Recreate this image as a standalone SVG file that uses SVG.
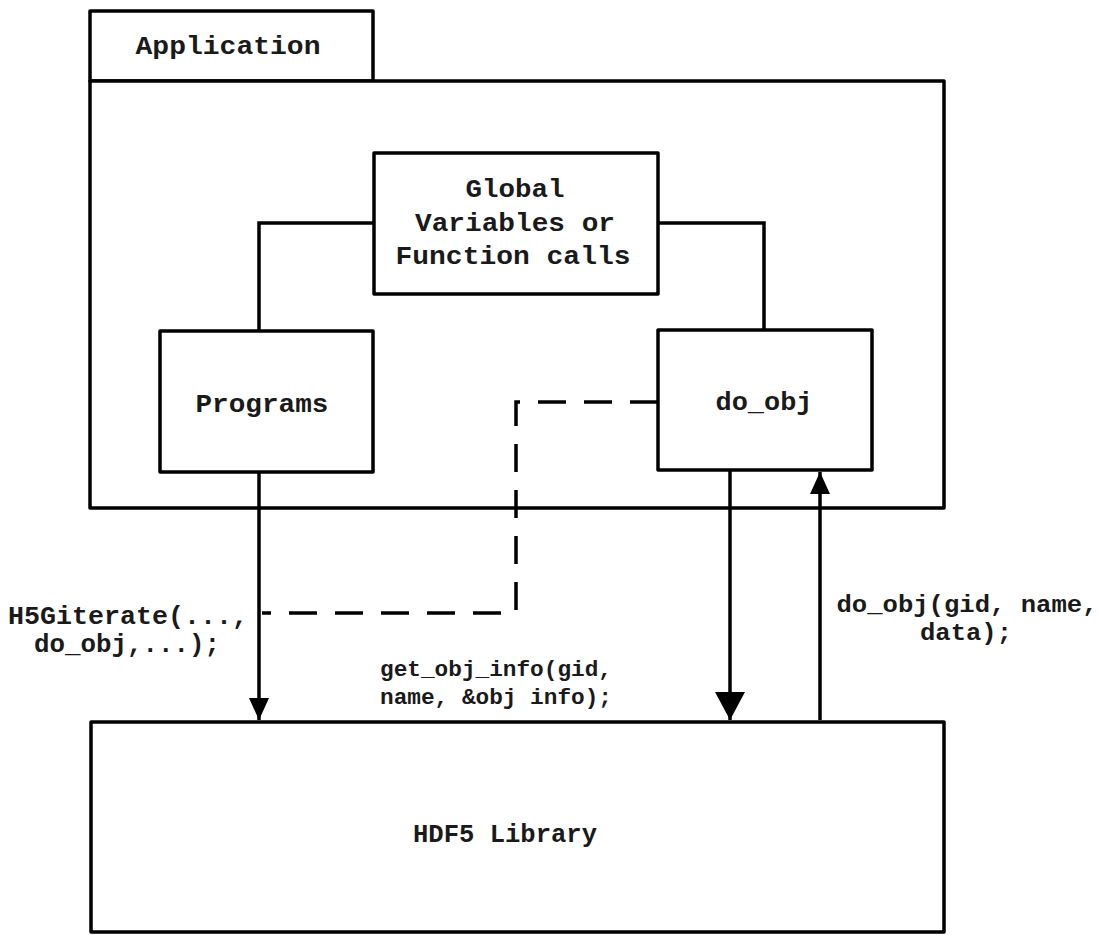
<svg xmlns="http://www.w3.org/2000/svg" width="1103" height="935" viewBox="0 0 1103 935">
<style>
.box{fill:#fff;stroke:#000;stroke-width:3.5;stroke-linejoin:round}
.ln{fill:none;stroke:#000;stroke-width:3.5}
.t{font-family:"Liberation Mono","Courier New",monospace;font-weight:bold;fill:#1a1a1a;text-anchor:middle}
</style>
<defs>
<marker id="ah" markerUnits="userSpaceOnUse" markerWidth="20" markerHeight="22" refX="10" refY="22" viewBox="0 0 20 22"><path d="M0,0 L20,0 L10,22 Z" fill="#000"/></marker>
<marker id="ahb" markerUnits="userSpaceOnUse" markerWidth="30" markerHeight="28" refX="15" refY="28" viewBox="0 0 30 28"><path d="M0,0 L30,0 L15,28 Z" fill="#000"/></marker>
<marker id="ahu" markerUnits="userSpaceOnUse" markerWidth="20" markerHeight="22" refX="10" refY="0" viewBox="0 0 20 22"><path d="M0,22 L20,22 L10,0 Z" fill="#000"/></marker>
</defs>
<rect width="1103" height="935" fill="#fff"/>
<g id="application">
<rect class="box" x="90" y="11" width="283" height="70"/>
<rect class="box" x="90" y="81" width="854" height="427"/>
<text class="t" x="228" y="54" font-size="26" textLength="185" lengthAdjust="spacingAndGlyphs">Application</text>
</g>
<g id="connectors">
<path class="ln" d="M259,331 V223 H373"/>
<path class="ln" d="M658,223 H764 V330"/>
<path class="ln" d="M658,402 H516 V613 H262" stroke-dasharray="28,18"/>
<line class="ln" x1="259" y1="472" x2="259" y2="720" stroke-width="3" marker-end="url(#ah)"/>
<line class="ln" x1="730" y1="470" x2="730" y2="720" stroke-width="6" marker-end="url(#ahb)"/>
<line class="ln" x1="820" y1="720" x2="820" y2="472" stroke-width="2.5" marker-end="url(#ahu)"/>
</g>
<g id="global">
<rect class="box" x="374" y="153" width="284" height="141"/>
<text class="t" x="515" y="197" font-size="26" textLength="99" lengthAdjust="spacingAndGlyphs">Global</text>
<text class="t" x="515" y="231" font-size="26" textLength="200" lengthAdjust="spacingAndGlyphs">Variables or</text>
<text class="t" x="513" y="264" font-size="26" textLength="235" lengthAdjust="spacingAndGlyphs">Function calls</text>
</g>
<g id="programs">
<rect class="box" x="160" y="331" width="213" height="141"/>
<text class="t" x="262" y="412" font-size="26" textLength="133" lengthAdjust="spacingAndGlyphs">Programs</text>
</g>
<g id="do_obj">
<rect class="box" x="658" y="330" width="214" height="140"/>
<text class="t" x="764" y="410" font-size="26" textLength="97" lengthAdjust="spacingAndGlyphs">do_obj</text>
</g>
<g id="hdf5">
<rect class="box" x="91" y="722" width="853" height="210"/>
<text class="t" x="505" y="842" font-size="25" textLength="184" lengthAdjust="spacingAndGlyphs">HDF5 Library</text>
</g>
<g id="labels">
<text class="t" x="128" y="624" font-size="25" textLength="240" lengthAdjust="spacingAndGlyphs">H5Giterate(...,</text>
<text class="t" x="127" y="652" font-size="25" textLength="186" lengthAdjust="spacingAndGlyphs">do_obj,...);</text>
<text class="t" x="496" y="676" font-size="22" textLength="232" lengthAdjust="spacingAndGlyphs">get_obj_info(gid,</text>
<text class="t" x="496" y="704" font-size="22" textLength="232" lengthAdjust="spacingAndGlyphs">name, &amp;obj info);</text>
<text class="t" x="967" y="612" font-size="24" textLength="261" lengthAdjust="spacingAndGlyphs">do_obj(gid, name,</text>
<text class="t" x="966" y="640" font-size="24" textLength="92" lengthAdjust="spacingAndGlyphs">data);</text>
</g>
</svg>
